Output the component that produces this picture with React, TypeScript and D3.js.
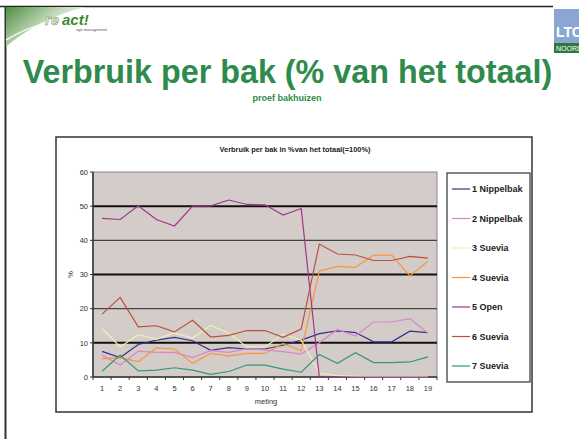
import React from "react";
import * as d3 from "d3";

const categories = ["1","2","3","4","5","6","7","8","9","10","11","12","13","14","15","16","17","18","19"];
const seriesNames = ["1 Nippelbak","2 Nippelbak","3 Suevia","4 Suevia","5 Open","6 Suevia","7 Suevia"];
const seriesColors = ["#3b2f8c","#d986c9","#f0f0b4","#f7953f","#a3358f","#b9503c","#2e9a78"];
const nippelbak1 = [7.5,5.7,9.5,10.8,11.6,10.6,7.8,8.6,8.2,8.2,9.3,10.8,12.7,13.5,13.0,10.3,10.3,13.4,13.0];
const nippelbak2 = [6.4,3.5,7.6,7.2,7.2,5.7,7.7,7.2,8.3,7.9,7.4,6.7,10.0,13.9,12.0,16.1,16.1,17.1,12.9];
const suevia3 = [14.2,8.8,12.4,11.0,12.9,11.4,15.1,12.9,8.8,8.8,12.5,10.8,1.1,0.4,0.2,0.1,0.1,0.1,0.1];
const suevia4 = [5.4,5.6,4.5,8.5,8.2,4.0,6.9,6.2,6.9,6.9,9.8,7.7,31.0,32.4,32.1,35.7,35.7,29.6,33.9];
const open5 = [46.4,46.1,50.1,46.1,44.2,50.0,50.1,51.8,50.5,50.4,47.4,49.3,0,0,0,0,0,0,0];
const suevia6 = [18.4,23.3,14.7,15.0,13.2,16.6,11.7,12.2,13.6,13.6,11.6,14.0,38.9,36.0,35.7,34.1,34.1,35.3,34.8];
const suevia7 = [1.7,6.4,1.8,2.0,2.7,2.0,0.8,1.6,3.5,3.5,2.3,1.4,6.6,4.0,7.1,4.2,4.2,4.4,5.9];
const seriesValues = [nippelbak1, nippelbak2, suevia3, suevia4, open5, suevia6, suevia7];
const yTicks = [0,10,20,30,40,50,60];

const W = 579, H = 439;
const plotL = 93, plotR = 437, plotT = 172, plotB = 377;

export default function App() {
  const x = d3.scaleBand<string>().domain(categories).range([plotL, plotR]);
  const y = d3.scaleLinear().domain([0, 60]).range([plotB, plotT]);
  const cx = (c: string) => (x(c) as number) + x.bandwidth() / 2;
  const line = d3.line<number>().x((_, i) => cx(categories[i])).y((v) => y(v));
  const font = "'Liberation Sans', Arial, sans-serif";
  const green = "#2e8b4c";

  return (
    <svg width={W} height={H} style={{ position: "absolute", left: 0, top: 0, background: "#fff" }} fontFamily={font}>
      <defs>
        <linearGradient id="sw" x1="0" y1="0" x2="1" y2="0.6">
          <stop offset="0" stopColor="#4d8f3f" />
          <stop offset="0.55" stopColor="#c8dcc0" />
          <stop offset="1" stopColor="#ffffff" />
        </linearGradient>
        <clipPath id="ltoClip">
          <rect x={554} y={9} width={25} height={44} />
        </clipPath>
      </defs>
      {/* slide frame */}
      <line x1={0} y1={6.5} x2={553} y2={6.5} stroke="#222" strokeWidth={1.5} />
      <line x1={5.5} y1={6} x2={5.5} y2={H} stroke="#333" strokeWidth={2} />
      {/* logo top left */}
      <path d="M6,7 L85,7 C62,13 32,24 6,47 Z" fill="url(#sw)" />
      <path d="M6,40 C30,25 60,17 110,14" fill="none" stroke="#fff" strokeWidth={1.5} opacity={0.8} />
      <text x={45} y={25} fontSize={15} fontWeight="bold" fontStyle="italic" fill="#e8f0e0" stroke="#6a9a5a" strokeWidth={0.5}>re</text>
      <text x={62} y={25} fontSize={15} fontWeight="bold" fontStyle="italic" fill="#3d8a2e">act!</text>
      <text x={76} y={31} fontSize={4} fill="#555">agri management</text>
      {/* LTO logo, cut by the page edge as in the slide */}
      <g clipPath="url(#ltoClip)">
        <rect x={554} y={9} width={25} height={34} fill="#8aa6d2" />
        <text x={556} y={37} fontSize={14} fontWeight="bold" fill="#fff">LTO</text>
        <rect x={554} y={43} width={25} height={10} fill="#2f7a3a" />
        <text x={556} y={51} fontSize={7} fill="#fff">NOORD</text>
      </g>
      {/* titles */}
      <text x={287.5} y={83} textAnchor="middle" fontSize={32.3} fontWeight="bold" fill={green}>Verbruik per bak (% van het totaal)</text>
      <text x={287} y={101} textAnchor="middle" fontSize={9} fontWeight="bold" fill={green}>proef bakhuizen</text>
      {/* chart frame */}
      <rect x={56} y={137} width={476} height={275} fill="#fff" stroke="#333" strokeWidth={1.5} />
      <text x={295} y={152} textAnchor="middle" fontSize={7.4} fontWeight="bold" fill="#222">Verbruik per bak in %van het totaal(=100%)</text>
      {/* plot */}
      <rect x={plotL} y={plotT} width={plotR - plotL} height={plotB - plotT} fill="#d4ccc8" stroke="#888" strokeWidth={1} />
      {yTicks.filter((t) => t > 0 && t < 60).map((t) => (
        <line key={t} x1={plotL} x2={plotR} y1={y(t)} y2={y(t)} stroke={t % 20 === 10 ? "#111" : "#444"} strokeWidth={t % 20 === 10 ? 2 : 1.3} />
      ))}
      {yTicks.map((t) => (
        <g key={"yt" + t}>
          <line x1={plotL - 3} x2={plotL} y1={y(t)} y2={y(t)} stroke="#333" />
          <text x={88} y={y(t) + 2.8} textAnchor="end" fontSize={7.5} fill="#333">{t}</text>
        </g>
      ))}
      {categories.map((c) => (
        <line key={"xt" + c} x1={x(c) as number} x2={x(c) as number} y1={plotB} y2={plotB + 3} stroke="#333" />
      ))}
      <line x1={plotR} x2={plotR} y1={plotB} y2={plotB + 3} stroke="#333" />
      {categories.map((c) => (
        <text key={"xl" + c} x={cx(c)} y={391} textAnchor="middle" fontSize={7.5} fill="#333">{c}</text>
      ))}
      <line x1={plotL} x2={plotL} y1={plotT} y2={plotB} stroke="#333" strokeWidth={1.5} />
      <line x1={plotL} x2={plotR} y1={plotB} y2={plotB} stroke="#333" strokeWidth={1.5} />
      <text x={266} y={404} textAnchor="middle" fontSize={7.5} fill="#333">meting</text>
      <text transform={`translate(73,${(plotT + plotB) / 2}) rotate(-90)`} textAnchor="middle" fontSize={7.5} fill="#333">%</text>
      {seriesValues.map((vals, i) => (
        <path key={"s" + i} d={line(vals) as string} fill="none" stroke={seriesColors[i]} strokeWidth={1.2} />
      ))}
      {/* legend */}
      <rect x={447} y={173} width={83} height={209} fill="#fff" stroke="#333" strokeWidth={1.2} />
      {seriesNames.map((n, i) => {
        const ly = 189 + i * 29.5;
        return (
          <g key={"lg" + i}>
            <line x1={452} x2={470} y1={ly} y2={ly} stroke={seriesColors[i]} strokeWidth={1.2} />
            <text x={472} y={ly + 3.2} fontSize={9} fontWeight="bold" fill="#222">{n}</text>
          </g>
        );
      })}
    </svg>
  );
}
